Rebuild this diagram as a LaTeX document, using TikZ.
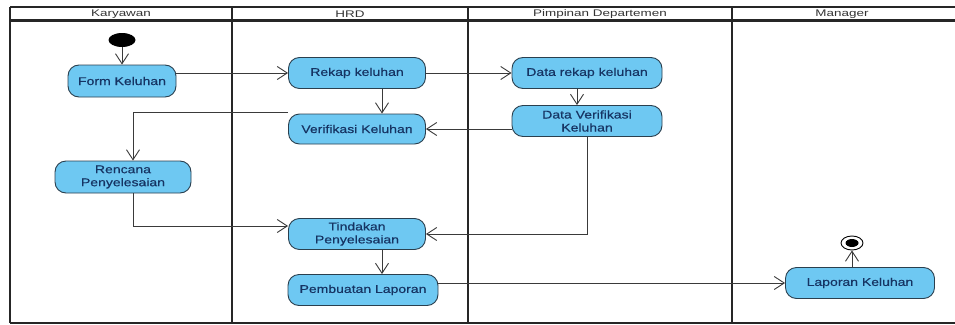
\documentclass[tikz,border=0pt]{standalone}
\usepackage{fontspec}
\setmainfont{Liberation Sans}[FakeStretch=1.25,FakeBold=0.4]
\newfontfamily\hdrfont{Liberation Sans}[FakeStretch=1.4]
\usetikzlibrary{arrows.meta,shapes.geometric}
\definecolor{actfill}{HTML}{6EC8F2}
\definecolor{actdraw}{HTML}{2A3F4E}
\definecolor{acttext}{HTML}{163463}
\definecolor{conn}{HTML}{3A3A3A}
\begin{document}
\begin{tikzpicture}[x=1pt,y=-1pt,
  act/.style={draw=actdraw,line width=0.9pt,fill=actfill,rounded corners=11pt,
    text=acttext,font=\fontsize{11.2}{13}\selectfont,align=center,inner sep=0pt,
    minimum height=31pt},
  arr/.style={draw=conn,line width=0.9pt,-{Straight Barb[length=10pt,width=13pt]}},
  lane/.style={line width=2.2pt,draw=black!85},
  hdr/.style={font=\hdrfont\fontsize{9.6}{10}\selectfont,text=black!80,inner sep=0pt}]
\useasboundingbox (0,0) rectangle (955,324);
% frame
\draw[lane] (10,7) -- (955,7);
\draw[lane] (10,20.5) -- (955,20.5);
\draw[lane] (10,323) -- (955,323);
\draw[lane] (10,7) -- (10,323);
\draw[lane] (232,7) -- (232,323);
\draw[lane] (468,7) -- (468,323);
\draw[lane] (732,7) -- (732,323);
% headers
\node[hdr] (h1) at (121,14) {Karyawan};
\node[hdr] (h2) at (350,14) {HRD};
\node[hdr] (h3) at (600,14) {Pimpinan Departemen};
\node[hdr] (h4) at (842,14) {Manager};
% nodes
\node[ellipse,fill=black,minimum width=27pt,minimum height=14pt,inner sep=0pt] (start) at (122,40) {};
\node[act,minimum width=108pt,minimum height=32pt] (form) at (122,81) {Form Keluhan};
\node[act,minimum width=137pt] (rekap) at (357,73) {Rekap keluhan};
\node[act,minimum width=137pt,minimum height=30pt] (verif) at (357,129) {Verifikasi Keluhan};
\node[act,minimum width=150pt] (drekap) at (587,73) {Data rekap keluhan};
\node[act,minimum width=150pt] (dverif) at (587,121) {Data Verifikasi\\Keluhan};
\node[act,minimum width=136pt,minimum height=32pt] (rencana) at (123,177) {Rencana\\Penyelesaian};
\node[act,minimum width=137pt] (tindak) at (357,234) {Tindakan\\Penyelesaian};
\node[act,minimum width=150pt] (buat) at (363,290) {Pembuatan Laporan};
\node[act,minimum width=149pt] (lapor) at (860,283) {Laporan Keluhan};
\node[ellipse,draw=black,line width=0.9pt,fill=white,minimum width=22pt,minimum height=14pt,inner sep=0pt] (end) at (852,243) {};
\node[ellipse,fill=black,minimum width=13pt,minimum height=8pt,inner sep=0pt] (endin) at (852,243) {};
% connectors
\draw[arr] (start.south) -- (form.north);
\draw[arr] (form.east |- rekap.west) -- (rekap.west);
\draw[arr] (rekap.east) -- (drekap.west);
\draw[arr] ([xshift=25pt]rekap.south) -- ([xshift=25pt]rekap.south |- verif.north);
\draw[arr] ([xshift=-10pt]drekap.south) -- ([xshift=-10pt]drekap.south |- dverif.north);
\draw[arr] (dverif.west |- verif.east) -- (verif.east);
\draw[arr] ([yshift=1pt]verif.north west) -| ([xshift=10pt]rencana.north);
\draw[arr] ([xshift=10pt]rencana.south) |- ([yshift=8pt]tindak.west);
\draw[arr] (dverif.south) |- (tindak.east);
\draw[arr] ([xshift=25pt]tindak.south) -- ([xshift=25pt]tindak.south |- buat.north);
\draw[arr] (buat.east |- lapor.west) -- (lapor.west);
\draw[arr] (end.south |- lapor.north) -- (end.south);
\end{tikzpicture}
\end{document}
